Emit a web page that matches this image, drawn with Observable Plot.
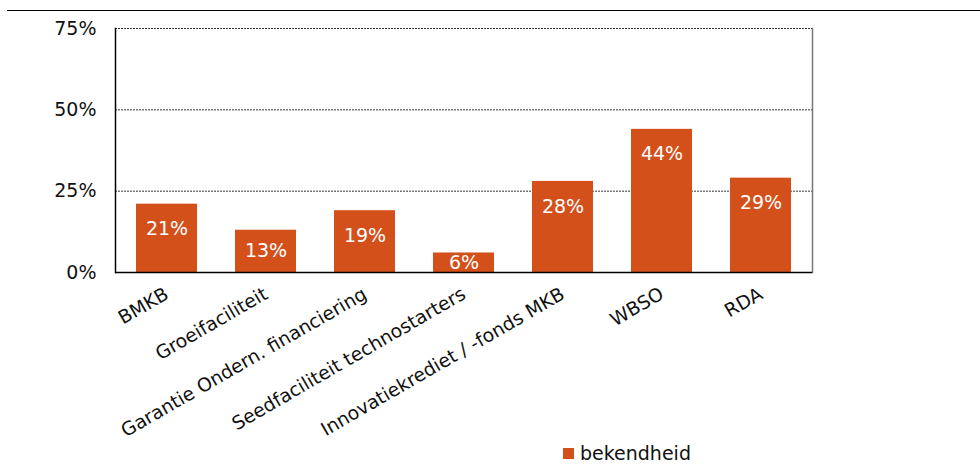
<!DOCTYPE html>
<html>
<head>
<meta charset="utf-8">
<script src="https://cdn.jsdelivr.net/npm/d3@7"></script>
<script src="https://cdn.jsdelivr.net/npm/@observablehq/plot@0.6"></script>
<style>
  body { margin: 0; background: #fff; font-family: "DejaVu Sans", Verdana, sans-serif; }
  #wrap { position: relative; width: 980px; height: 472px; overflow: hidden; }
  #topline { position: absolute; left: 7px; top: 10px; width: 973px; border-top: 1.5px solid #000; }
  #chart { position: absolute; left: 0; top: 12px; }
  #legend { position: absolute; left: 563px; top: 442px; font-size: 19px; color: #111; display: flex; align-items: center; }
  #legend .sw { width: 11px; height: 11px; background: #d4501b; margin-right: 6px; }
</style>
</head>
<body>
<div id="wrap">
  <div id="topline"></div>
  <div id="chart"></div>
  <div id="legend"><span class="sw"></span><span>bekendheid</span></div>
</div>
<script>
const categories = ["BMKB", "Groeifaciliteit", "Garantie Ondern. financiering", "Seedfaciliteit technostarters", "Innovatiekrediet / -fonds MKB", "WBSO", "RDA"];
const bekendheid = [21, 13, 19, 6, 28, 44, 29];
const yTicks = [0, 25, 50, 75];
const seriesName = "bekendheid";
const barColor = "#d4501b";

const data = categories.map((c, i) => ({ cat: c, v: bekendheid[i] }));

const chart = Plot.plot({
  width: 980,
  height: 458,
  marginTop: 16,
  marginBottom: 198,
  marginLeft: 115,
  marginRight: 168,
  style: { fontFamily: "DejaVu Sans, Verdana, sans-serif", fontSize: "19px", color: "#111", background: "transparent" },
  x: { domain: categories, paddingInner: 0.38, paddingOuter: 0.19, label: null },
  y: { domain: [0, 75], label: null },
  marks: [
    Plot.ruleY([25, 50, 75], { stroke: "#333", strokeWidth: 1, strokeDasharray: "2,1" }),
    Plot.frame({ anchor: "right", stroke: "#777", strokeWidth: 1.5 }),
    Plot.barY(data, { x: "cat", y: "v", fill: barColor }),
    Plot.text(data, {
      x: "cat",
      y: d => Math.max(d.v - 7.7, d.v / 2),
      text: d => d.v + "%",
      fill: "#fff",
      fontSize: 19
    }),
    Plot.ruleY([0], { stroke: "#000", strokeWidth: 1.5 }),
    Plot.frame({ anchor: "left", stroke: "#000", strokeWidth: 1.5 }),
    Plot.axisY({ ticks: yTicks, tickFormat: d => d + "%", tickSize: 0, tickPadding: 19, fontSize: 19, label: null }),
    Plot.axisX({ tickSize: 0, tickPadding: 20, tickRotate: -30, fontSize: 18.8, label: null })
  ]
});
document.getElementById("chart").appendChild(chart);
</script>
</body>
</html>
